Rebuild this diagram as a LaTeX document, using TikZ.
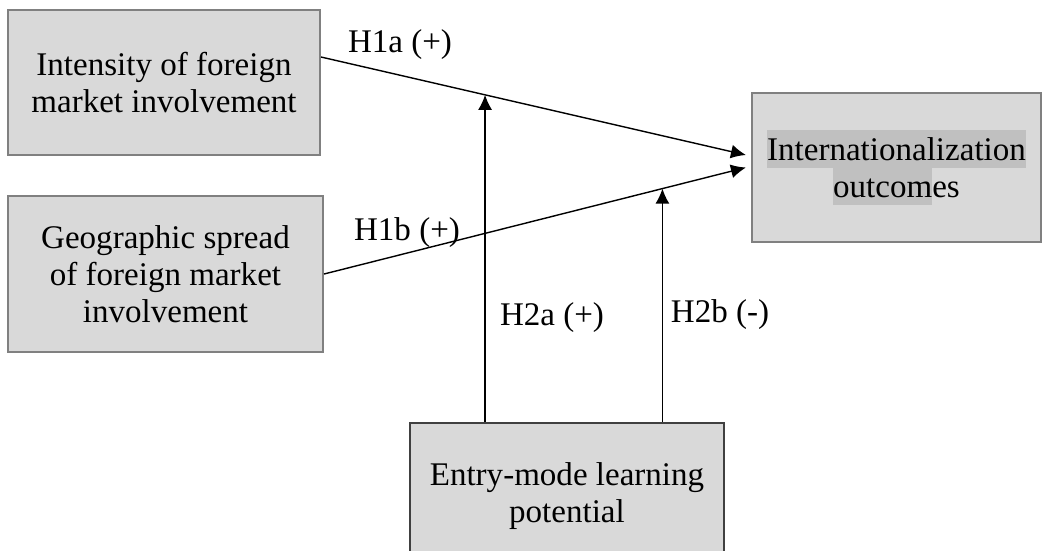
\documentclass[tikz,border=0pt]{standalone}
\usepackage{fontspec}
\setmainfont{Liberation Serif}
\usetikzlibrary{arrows.meta}
\definecolor{boxgray}{HTML}{D9D9D9}
\definecolor{boxline}{HTML}{808080}
\definecolor{hlgray}{HTML}{C0C0C0}
\setlength{\fboxsep}{0pt}
\newcommand{\hlrow}[1]{\colorbox{hlgray}{\rule[-2pt]{0pt}{10.6pt}#1}}
\begin{document}
\begin{tikzpicture}[font=\fontsize{9.4}{10.6}\selectfont,
 box/.style={rectangle, draw=boxline, line width=0.6pt, fill=boxgray, align=center, inner sep=0pt},
 arr/.style={line width=0.4pt, -{Latex[length=1.5mm, width=1.4mm]}}]
\useasboundingbox (0,0) rectangle (10.42,5.5);
\node[box, minimum width=3.12cm, minimum height=1.45cm] (ifm) at (1.64,4.675){Intensity of foreign\\market involvement};
\node[box, minimum width=3.15cm, minimum height=1.56cm] (gsf) at (1.655,2.76){Geographic spread\\of foreign market\\involvement};
\node[box, minimum width=2.89cm, minimum height=1.49cm] (io) at (8.965,3.825){\hlrow{Internationalization}\\\hlrow{outcom}es};
\node[box, draw=black!75, minimum width=3.14cm, minimum height=1.46cm] (eml) at (5.67,0.54){Entry-mode learning\\potential};
\draw[arr]([yshift=0.255cm]ifm.east) -- coordinate[pos=0.386] (m1) ([xshift=-0.5mm, yshift=0.125cm]io.west);
\draw[arr](gsf.east) -- coordinate[pos=0.802] (m2) ([xshift=-0.5mm]io.west);
\draw[arr](eml.north -| m1) -- (m1);
\draw[arr](eml.north -| m2) -- (m2);
\node (h1a) at (4.00,5.05){H1a (+)};
\node (h1b) at (4.07,3.17){H1b (+)};
\node (h2a) at (5.52,2.32){H2a (+)};
\node (h2b) at (7.20,2.35){H2b (-)};
\end{tikzpicture}
\end{document}
